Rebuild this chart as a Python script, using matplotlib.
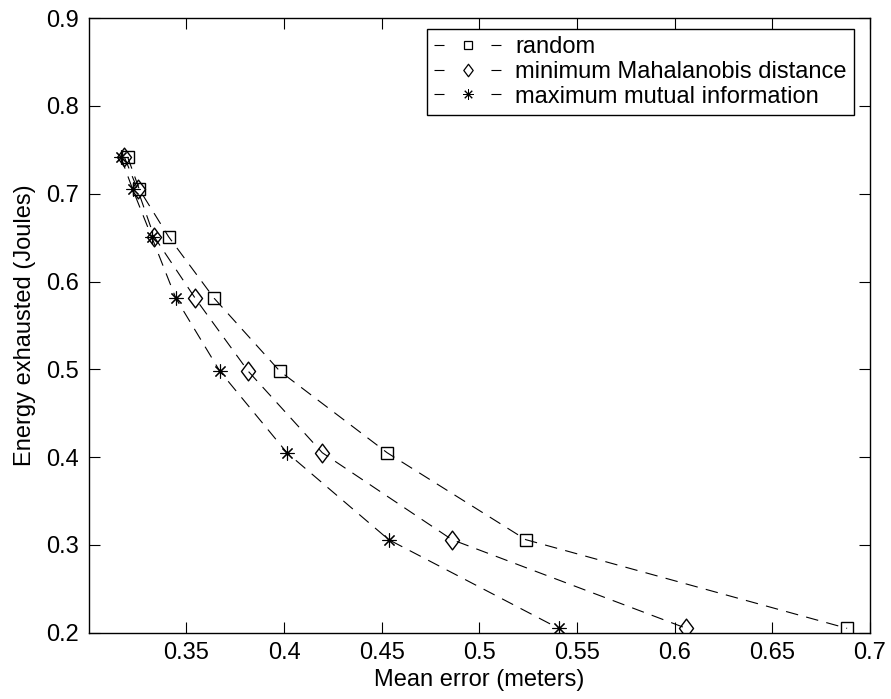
import matplotlib
matplotlib.use("Agg")
import matplotlib.pyplot as plt
from matplotlib.path import Path
from matplotlib.lines import Line2D

plt.rcParams['font.family'] = ['Liberation Sans', 'DejaVu Sans']
plt.rcParams['lines.scale_dashes'] = False

# energy levels (y) shared by all three strategies
energy = [0.742, 0.705, 0.651, 0.581, 0.498, 0.405, 0.306, 0.205]

err_random = [0.3199, 0.3259, 0.3409, 0.3642, 0.3978, 0.4528, 0.5238, 0.6883]
err_mahal = [0.3182, 0.3250, 0.3335, 0.3545, 0.3816, 0.4196, 0.4860, 0.6060]
err_mutual = [0.3164, 0.3225, 0.3322, 0.3446, 0.3671, 0.4015, 0.4536, 0.5406]

labels = ["random", "minimum Mahalanobis distance", "maximum mutual information"]

xticks = [0.35, 0.4, 0.45, 0.5, 0.55, 0.6, 0.65, 0.7]
xticklabels = ["0.35", "0.4", "0.45", "0.5", "0.55", "0.6", "0.65", "0.7"]
yticks = [0.2, 0.3, 0.4, 0.5, 0.6, 0.7, 0.8, 0.9]
yticklabels = ["0.2", "0.3", "0.4", "0.5", "0.6", "0.7", "0.8", "0.9"]

# tall matlab-style diamond
diamond = Path([(0, 1), (0.75, 0), (0, -1), (-0.75, 0), (0, 1)],
               [Path.MOVETO, Path.LINETO, Path.LINETO, Path.LINETO, Path.CLOSEPOLY])
star = (8, 2, 0)

FS = 17

fig = plt.figure(figsize=(8.91, 6.99), dpi=100)
ax = fig.add_axes([0.0996, 0.0948, 0.8768, 0.8792])

dash = (0, (9, 6))
ax.plot(err_random, energy, linestyle=dash, color='k', lw=0.8,
        marker='s', ms=8.5, mfc='none', mec='k', mew=1.0)
ax.plot(err_mahal, energy, linestyle=dash, color='k', lw=0.8,
        marker=diamond, ms=13.5, mfc='none', mec='k', mew=1.0)
ax.plot(err_mutual, energy, linestyle=dash, color='k', lw=0.8,
        marker=star, ms=10, mfc='none', mec='k', mew=0.8)

ax.set_xlim(0.3, 0.7)
ax.set_ylim(0.2, 0.9)
ax.set_xticks(xticks)
ax.set_xticklabels(xticklabels)
ax.set_yticks(yticks)
ax.set_yticklabels(yticklabels)
ax.tick_params(direction='in', length=8, width=0.8, top=True, right=True,
               labelsize=FS, colors='k', pad=7)
for s in ax.spines.values():
    s.set_linewidth(1.0)

ax.set_xlabel("Mean error (meters)", fontsize=FS, labelpad=3)
ax.set_ylabel("Energy exhausted (Joules)", fontsize=FS, labelpad=7)

# legend proxies: "- marker -" like the matlab legend
leg_dash = (0, (7.2, 33.8))
handles = [
    Line2D([], [], linestyle=leg_dash, color='k', lw=0.8, marker='s', ms=6,
           mfc='none', mec='k', mew=0.9),
    Line2D([], [], linestyle=leg_dash, color='k', lw=0.8, marker=diamond, ms=9,
           mfc='none', mec='k', mew=0.9),
    Line2D([], [], linestyle=leg_dash, color='k', lw=0.8, marker=star, ms=7.5,
           mfc='none', mec='k', mew=0.7),
]
leg = ax.legend(handles, labels, loc='upper right',
                bbox_to_anchor=(854 / 891, 1 - 29 / 699), bbox_transform=fig.transFigure,
                fontsize=FS, frameon=True, fancybox=False, edgecolor='k', framealpha=1,
                handlelength=2.84, handletextpad=0.6, labelspacing=0.12,
                borderpad=0.3, borderaxespad=0)
leg.get_frame().set_linewidth(1.0)

fig.savefig("out.png", dpi=100)
